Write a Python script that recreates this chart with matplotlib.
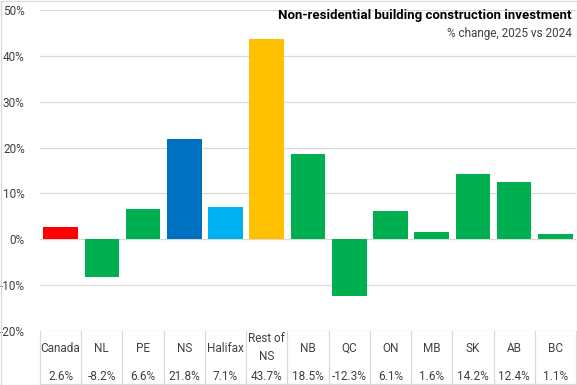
import matplotlib.pyplot as plt
import matplotlib.transforms as mtransforms
from matplotlib.ticker import FuncFormatter

# Data
regions = ['Canada', 'NL', 'PE', 'NS', 'Halifax', 'Rest of\nNS', 'NB', 'QC', 'ON', 'MB', 'SK', 'AB', 'BC']
changes = [2.6, -8.2, 6.6, 21.8, 7.1, 43.7, 18.5, -12.3, 6.1, 1.6, 14.2, 12.4, 1.1]
colors = ['#FF0000', '#00B050', '#00B050', '#0070C0', '#00B0F0', '#FFC000',
          '#00B050', '#00B050', '#00B050', '#00B050', '#00B050', '#00B050', '#00B050']

plt.rcParams['font.family'] = ['Roboto', 'DejaVu Sans']

fig = plt.figure(figsize=(5.77, 3.85), dpi=100)
ax = fig.add_axes([40 / 577, 1 - 331 / 385, 536 / 577, 321 / 385])

x = list(range(len(regions)))
ax.bar(x, changes, width=0.84, color=colors, zorder=3)

ax.set_xlim(-0.5, len(regions) - 0.5)
ax.set_ylim(-20, 50)
ax.set_yticks(range(-20, 51, 10))
ax.yaxis.set_major_formatter(FuncFormatter(lambda v, p: f'{v:.0f}%'))
ax.tick_params(axis='y', length=0, labelsize=8.5, labelcolor='#404040', pad=11)
ax.set_xticks([])
ax.grid(axis='y', color='#D9D9D9', linewidth=0.9, zorder=0)
for s in ax.spines.values():
    s.set_visible(False)

# Data table under the plot
trans = mtransforms.blended_transform_factory(ax.transData, fig.transFigure)
line_kw = dict(color='#D9D9D9', linewidth=0.9, transform=trans, clip_on=False)
for i in range(len(regions) + 1):
    ax.plot([i - 0.5, i - 0.5], [0, 1 - 331 / 385], **line_kw)
ax.plot([-0.5, len(regions) - 0.5], [1 / 385, 1 / 385], **line_kw)
for i, (r, v) in enumerate(zip(regions, changes)):
    ax.text(i, 1 - 348 / 385, r, transform=trans, ha='center', va='center',
            fontsize=8.5, color='#404040', linespacing=1.5)
    ax.text(i, 1 - 377 / 385, f'{v:.1f}%', transform=trans, ha='center', va='center',
            fontsize=8.5, color='#404040')

fig.text(572 / 577, 1 - 15 / 385, 'Non-residential building construction investment',
         ha='right', va='center', fontsize=9.5, fontweight='bold', color='black')
fig.text(572 / 577, 1 - 33 / 385, '% change, 2025 vs 2024',
         ha='right', va='center', fontsize=8.5, color='#404040')

# outer border
fig.patches.append(plt.Rectangle((0.5 / 577, 0.5 / 385), 576 / 577, 384 / 385, transform=fig.transFigure,
                                 fill=False, edgecolor='#D9D9D9', linewidth=0.9))

fig.savefig('out.png', dpi=100)
